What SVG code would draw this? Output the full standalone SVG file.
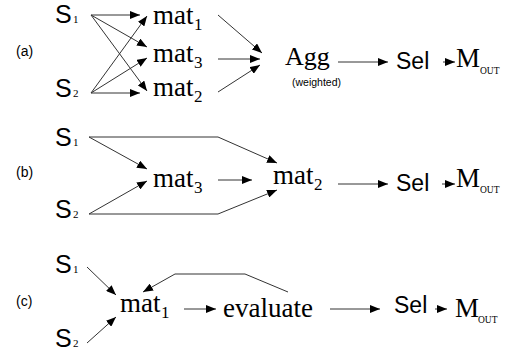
<svg xmlns="http://www.w3.org/2000/svg" width="508" height="354" viewBox="0 0 508 354">
<defs>
<marker id="ah" markerUnits="userSpaceOnUse" markerWidth="10" markerHeight="8" refX="10" refY="4" orient="auto">
<path d="M0,0 L10,4 L0,8 z" fill="#000"/>
</marker>
<style>
.c line, .c polyline { stroke:#333; stroke-width:1; fill:none; marker-end:url(#ah); }
.lab { font-family:"Liberation Sans", Arial, sans-serif; font-size:14px; fill:#000; }
.s { font-family:"Liberation Sans", Arial, sans-serif; font-size:25px; fill:#000; }
.ss { font-family:"Liberation Serif", "Times New Roman", serif; font-size:11px; fill:#000; }
.m { font-family:"Liberation Serif", "Times New Roman", serif; font-size:27px; fill:#000; }
.ms { font-family:"Liberation Serif", "Times New Roman", serif; font-size:17px; fill:#000; }
.o { font-family:"Liberation Serif", "Times New Roman", serif; font-size:9.5px; fill:#000; }
.w { font-family:"Liberation Sans", Arial, sans-serif; font-size:10.5px; fill:#000; }
.sel { font-family:"Liberation Sans", Arial, sans-serif; font-size:23px; fill:#000; }
</style>
</defs>
<rect width="508" height="354" fill="#fff"/>

<!-- (a) -->
<text class="lab" x="16" y="56">(a)</text>
<g id="a_S1"><text class="s" x="55" y="23">S</text><text class="ss" x="73" y="23">1</text></g>
<g id="a_S2"><text class="s" x="55" y="97">S</text><text class="ss" x="73" y="97">2</text></g>
<g id="a_mat1"><text class="m" x="153" y="24">mat</text><text class="ms" x="194" y="30">1</text></g>
<g id="a_mat3"><text class="m" x="153" y="62">mat</text><text class="ms" x="194" y="68">3</text></g>
<g id="a_mat2"><text class="m" x="153" y="96">mat</text><text class="ms" x="194" y="102">2</text></g>
<g id="a_agg"><text class="m" x="285" y="65" style="font-size:26px">Agg</text><text class="w" x="292" y="86">(weighted)</text></g>
<g id="a_sel"><text class="sel" x="396" y="69">Sel</text></g>
<g id="a_mout"><text class="m" x="456" y="67">M</text><text class="o" x="480" y="74">OUT</text></g>

<!-- (b) -->
<text class="lab" x="16" y="177">(b)</text>
<g id="b_S1"><text class="s" x="55" y="146">S</text><text class="ss" x="73" y="146">1</text></g>
<g id="b_S2"><text class="s" x="55" y="218">S</text><text class="ss" x="73" y="218">2</text></g>
<g id="b_mat3"><text class="m" x="153" y="187">mat</text><text class="ms" x="194" y="193">3</text></g>
<g id="b_mat2"><text class="m" x="273" y="184">mat</text><text class="ms" x="314" y="190">2</text></g>
<g id="b_sel"><text class="sel" x="396" y="191">Sel</text></g>
<g id="b_mout"><text class="m" x="456" y="187">M</text><text class="o" x="480" y="193">OUT</text></g>

<!-- (c) -->
<text class="lab" x="16" y="306">(c)</text>
<g id="c_S1"><text class="s" x="55" y="273">S</text><text class="ss" x="73" y="273">1</text></g>
<g id="c_S2"><text class="s" x="55" y="347">S</text><text class="ss" x="73" y="347">2</text></g>
<g id="c_mat1"><text class="m" x="120" y="312">mat</text><text class="ms" x="161" y="318">1</text></g>
<g id="c_eval"><text class="m" x="223" y="317">evaluate</text></g>
<g id="c_sel"><text class="sel" x="394" y="313">Sel</text></g>
<g id="c_mout"><text class="m" x="455" y="317">M</text><text class="o" x="478" y="323">OUT</text></g>

<g class="c" id="connectors">
<!-- a -->
<line x1="91" y1="15" x2="140" y2="15"/>
<line x1="91" y1="15" x2="147" y2="47"/>
<line x1="91" y1="15" x2="147" y2="91"/>
<line x1="91" y1="93" x2="147" y2="16"/>
<line x1="91" y1="93" x2="147" y2="58"/>
<line x1="91" y1="93" x2="140" y2="93"/>
<line x1="218" y1="15" x2="262" y2="53"/>
<line x1="218" y1="59" x2="260" y2="59"/>
<line x1="218" y1="92" x2="260" y2="65"/>
<line x1="338" y1="62" x2="388" y2="62"/>
<line x1="443" y1="62" x2="455" y2="62"/>
<!-- b -->
<polyline points="89,137 218,137 277,163"/>
<line x1="89" y1="137" x2="147" y2="169"/>
<line x1="89" y1="214" x2="147" y2="181"/>
<polyline points="89,214 218,214 277,190"/>
<line x1="218" y1="180" x2="252" y2="180"/>
<line x1="338" y1="184" x2="388" y2="184"/>
<line x1="442" y1="184" x2="455" y2="184"/>
<!-- c -->
<line x1="87" y1="267" x2="116" y2="295"/>
<line x1="87" y1="343" x2="116" y2="317"/>
<line x1="184" y1="309" x2="216" y2="309"/>
<polyline points="288,292 245,274 175,274 143,292"/>
<line x1="330" y1="309" x2="380" y2="309"/>
<line x1="435" y1="309" x2="447" y2="309"/>
</g>
</svg>
